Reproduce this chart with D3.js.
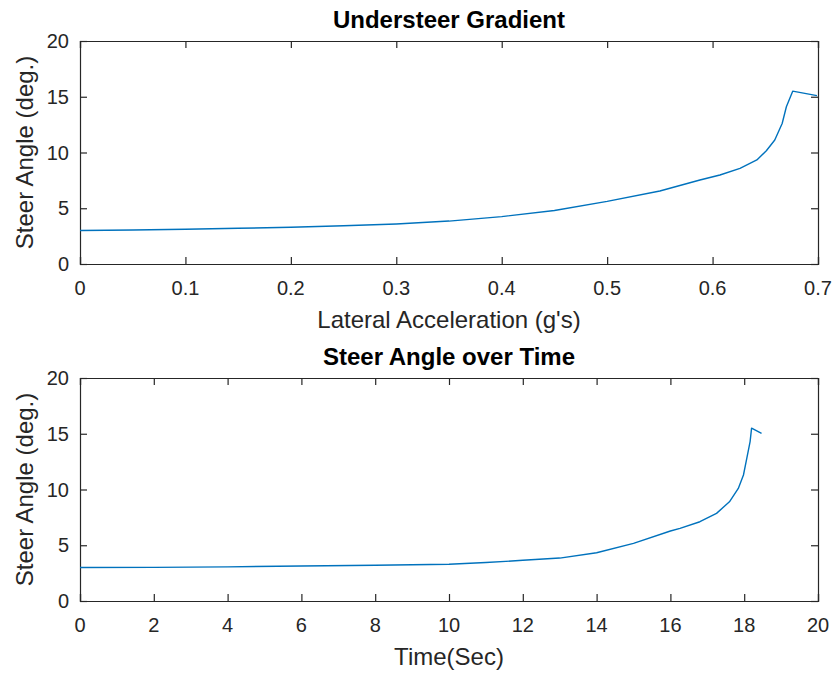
<!DOCTYPE html>
<html>
<head>
<meta charset="utf-8">
<script src="https://cdn.jsdelivr.net/npm/d3@7"></script>
<style>
  html, body { margin: 0; padding: 0; background: #fff; }
  svg { display: block; font-family: "Liberation Sans", Arial, sans-serif; }
</style>
</head>
<body>
<svg id="fig" width="837" height="679"></svg>
<script>
// Understeer gradient: steer angle vs lateral acceleration
const latAccel = [0, 0.05, 0.1, 0.15, 0.2, 0.25, 0.3, 0.35, 0.4, 0.45, 0.5, 0.55, 0.588, 0.607, 0.626, 0.642, 0.651, 0.659, 0.666, 0.670, 0.676, 0.699];
const steerVsAccel = [3.0, 3.05, 3.12, 3.2, 3.3, 3.43, 3.59, 3.85, 4.25, 4.8, 5.62, 6.55, 7.53, 7.98, 8.58, 9.33, 10.16, 11.12, 12.6, 14.1, 15.5, 15.1];

// Steer angle over time
const timeSec = [0, 2, 4, 6, 8, 10, 11, 12, 13, 14, 15, 16, 16.26, 16.8, 17.25, 17.6, 17.84, 17.98, 18.07, 18.16, 18.2, 18.47];
const steerVsTime = [3.0, 3.02, 3.06, 3.14, 3.2, 3.3, 3.45, 3.65, 3.85, 4.33, 5.17, 6.28, 6.52, 7.11, 7.86, 8.9, 10.1, 11.3, 12.8, 14.3, 15.5, 15.04];

const accelTicks = [0, 0.1, 0.2, 0.3, 0.4, 0.5, 0.6, 0.7];
const timeTicks = [0, 2, 4, 6, 8, 10, 12, 14, 16, 18, 20];
const steerTicks = [0, 5, 10, 15, 20];

const svg = d3.select("#fig");
const axisColor = "#262626";
const lineColor = "#0072bd";

function panel(opts) {
  const { top, bottom, left, right, xDomain, xTicks, xFmt, xs, ys, title, xLabel } = opts;
  const x = d3.scaleLinear().domain(xDomain).range([left, right]);
  const y = d3.scaleLinear().domain([0, 20]).range([bottom, top]);
  const g = svg.append("g");
  const tickLen = 7;

  // inward ticks on all four sides
  const bottomAxis = d3.axisBottom(x).tickValues(xTicks).tickSize(-tickLen).tickFormat("");
  const topAxis = d3.axisTop(x).tickValues(xTicks).tickSize(-tickLen).tickFormat("");
  const leftAxis = d3.axisLeft(y).tickValues(steerTicks).tickSize(-tickLen).tickFormat("");
  const rightAxis = d3.axisRight(y).tickValues(steerTicks).tickSize(-tickLen).tickFormat("");

  [[bottomAxis, `translate(0,${bottom})`], [topAxis, `translate(0,${top})`],
   [leftAxis, `translate(${left},0)`], [rightAxis, `translate(${right},0)`]].forEach(([ax, tr]) => {
    const a = g.append("g").attr("transform", tr).call(ax);
    a.select(".domain").attr("stroke", axisColor).attr("stroke-width", 1.2);
    a.selectAll(".tick line").attr("stroke", axisColor).attr("stroke-width", 1.2);
  });

  // tick labels
  g.append("g").selectAll("text").data(xTicks).join("text")
    .attr("x", d => x(d)).attr("y", bottom + 31)
    .attr("text-anchor", "middle").attr("font-size", 20).attr("fill", axisColor)
    .text(xFmt);
  g.append("g").selectAll("text").data(steerTicks).join("text")
    .attr("x", left - 11).attr("y", d => y(d) + 7)
    .attr("text-anchor", "end").attr("font-size", 20).attr("fill", axisColor)
    .text(d => d);

  // data line
  const pts = xs.map((v, i) => [v, ys[i]]);
  g.append("path").datum(pts)
    .attr("fill", "none").attr("stroke", lineColor).attr("stroke-width", 1.4)
    .attr("stroke-linejoin", "round")
    .attr("d", d3.line().x(d => x(d[0])).y(d => y(d[1])));

  // labels and title
  const cx = (left + right) / 2;
  g.append("text").attr("x", cx).attr("y", top - 13)
    .attr("text-anchor", "middle").attr("font-size", 24).attr("font-weight", "bold").attr("fill", "#000")
    .text(title);
  g.append("text").attr("x", cx).attr("y", bottom + 64)
    .attr("text-anchor", "middle").attr("font-size", 24).attr("fill", axisColor)
    .text(xLabel);
  g.append("text")
    .attr("transform", `translate(${left - 47},${(top + bottom) / 2}) rotate(-90)`)
    .attr("text-anchor", "middle").attr("font-size", 24).attr("fill", axisColor)
    .text("Steer Angle (deg.)");
}

panel({
  top: 41, bottom: 264, left: 80, right: 818,
  xDomain: [0, 0.7], xTicks: accelTicks, xFmt: d => d3.format("")(d),
  xs: latAccel, ys: steerVsAccel,
  title: "Understeer Gradient", xLabel: "Lateral Acceleration (g's)"
});

panel({
  top: 378, bottom: 601, left: 80, right: 818,
  xDomain: [0, 20], xTicks: timeTicks, xFmt: d => d,
  xs: timeSec, ys: steerVsTime,
  title: "Steer Angle over Time", xLabel: "Time(Sec)"
});
</script>
</body>
</html>
